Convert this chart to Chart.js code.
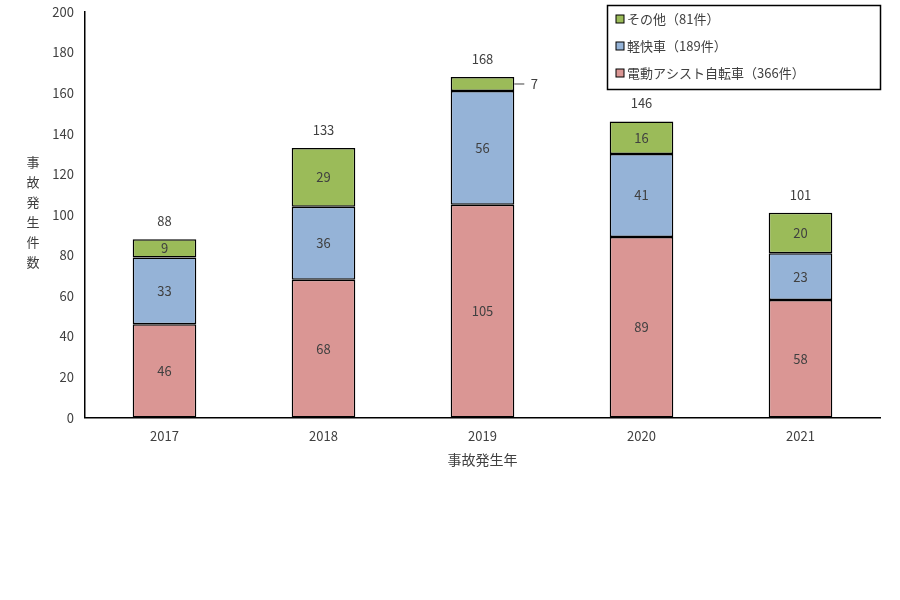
<!DOCTYPE html>
<html><head><meta charset="utf-8">
<script src="https://cdn.jsdelivr.net/npm/chart.js@4"></script>
<style>body{margin:0;background:#fff}#w{width:900px;height:600px}</style>
</head><body><div id="w"><canvas id="c"></canvas></div>
<script>
const years=['2017','2018','2019','2020','2021'];
const electric=[46,68,105,89,58];
const light=[33,36,56,41,23];
const other=[9,29,7,16,20];
const totals=[88,133,168,146,101];
const legendLabels=['その他（81件）','軽快車（189件）','電動アシスト自転車（366件）'];
const F='"Noto Sans CJK JP","Noto Sans",sans-serif';
const cols=['#da9694','#95b3d7','#9bbb59'];
const plug={id:'p',afterDatasetsDraw(ch){
  const c=ch.ctx;c.save();c.font='13px '+F;c.fillStyle='#404040';c.textAlign='center';c.textBaseline='middle';
  ch.data.datasets.forEach((ds,i)=>{ch.getDatasetMeta(i).data.forEach((b,j)=>{
    const y=(b.y+b.base)/2;
    if(i===2&&j===2){c.strokeStyle='#404040';c.lineWidth=1;c.beginPath();c.moveTo(b.x+b.width/2,y);c.lineTo(b.x+b.width/2+10,y);c.stroke();c.fillText(ds.data[j],b.x+b.width/2+20,y);}
    else c.fillText(ds.data[j],b.x,y);
  });});
  const m=ch.getDatasetMeta(2);
  m.data.forEach((b,j)=>c.fillText(totals[j],b.x,b.y-18));
  // y title
  const t='事故発生件数';for(let k=0;k<t.length;k++)c.fillText(t[k],33,162+k*20);
  // legend
  c.strokeStyle='#000';c.lineWidth=1.5;c.strokeRect(607.5,5.5,273,84);
  c.textAlign='left';
  const lc=[cols[2],cols[1],cols[0]];
  legendLabels.forEach((l,k)=>{const y=19+k*27;c.fillStyle=lc[k];c.fillRect(616,y-4,8,8);c.strokeStyle='#000';c.lineWidth=1;c.strokeRect(616,y-4,8,8);c.fillStyle='#404040';c.fillText(l,627,y);});
  c.restore();}};
new Chart(document.getElementById('c'),{type:'bar',
data:{labels:years,datasets:[
 {label:legendLabels[2],data:electric,backgroundColor:cols[0]},
 {label:legendLabels[1],data:light,backgroundColor:cols[1]},
 {label:legendLabels[0],data:other,backgroundColor:cols[2]}].map(d=>Object.assign(d,{borderColor:'#000',borderWidth:1.5,borderSkipped:false,barPercentage:0.8,categoryPercentage:0.5}))},
options:{responsive:true,maintainAspectRatio:false,animation:false,
 layout:{padding:{left:0,right:20,top:12,bottom:128}},
 plugins:{legend:{display:false},tooltip:{enabled:false}},
 scales:{
  x:{stacked:true,grid:{display:false},border:{color:'#000',width:1.5},ticks:{color:'#404040',font:{size:13,family:F}},
     title:{display:true,text:'事故発生年',color:'#404040',font:{size:14,family:F}}},
  y:{stacked:true,min:0,max:200,afterFit(s){s.width=85;},grid:{display:false,drawTicks:true},border:{color:'#000',width:1.5},
     ticks:{stepSize:20,color:'#404040',font:{size:13,family:F}}}}},
plugins:[plug]});
</script></body></html>
